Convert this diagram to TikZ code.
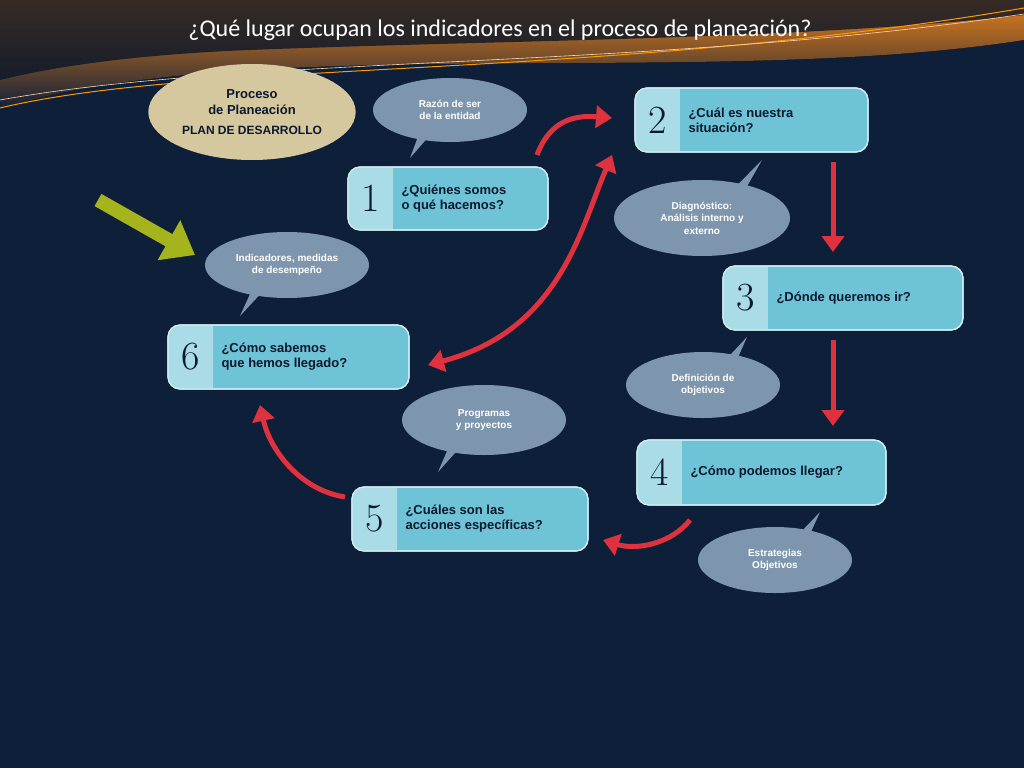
\documentclass[tikz,border=0pt]{standalone}
\usepackage{fontspec}
\setsansfont{Carlito}
\newfontfamily\arialb{Liberation Sans}
\usetikzlibrary{arrows.meta,shapes.geometric}
\definecolor{bg}{HTML}{0E1F3A}
\definecolor{boxc}{HTML}{6EC3D6}
\definecolor{numc}{HTML}{A9DCE7}
\definecolor{bub}{HTML}{7E96AD}
\definecolor{redc}{HTML}{E0313F}
\definecolor{beige}{HTML}{D5C79E}
\definecolor{olive}{HTML}{A5B41C}
\tikzset{
 qbox/.style={draw=white!70!boxc,line width=1.2pt,fill=boxc,rounded corners=12pt},
 qtext/.style={font=\arialb\bfseries\fontsize{13}{15}\selectfont,text=bg!80!black,align=left,anchor=west},
 num/.style={font=\fontsize{40}{40}\selectfont,text=bg!80!black},
 btext/.style={font=\arialb\bfseries\fontsize{10}{12.5}\selectfont,text=white,align=center},
 redarr/.style={redc,line width=5pt,-{Triangle[length=16pt,width=22pt]}},
}
\newcommand{\qb}[7]{%
 \draw[qbox] (#2,#3) rectangle (#4,#5);
 \begin{scope}
 \clip[rounded corners=12pt] (#2,#3) rectangle (#4,#5);
 \fill[numc] (#2,#3) rectangle (#2+45,#5);
 \end{scope}
 \draw[white!70!boxc,line width=1.2pt,rounded corners=12pt] (#2,#3) rectangle (#4,#5);
 \node[num] (#1n) at (#2+23,{(#3+#5)/2}) {#6};
 \node[qtext] (#1) at (#2+50,{(#3+#5)/2}) {#7};
}
\newcommand{\bb}[8]{%
 \fill[bub] (#2,#3) ellipse [x radius=#4,y radius=#5];
 \fill[bub] ({#2+(#6-#2)*0.25-12},#3) -- (#6,#7) -- ({#2+(#6-#2)*0.25+12},#3) -- cycle;
 \node[btext] (#1) at (#2,#3) {#8};
}
\begin{document}
\begin{tikzpicture}[x=1pt,y=-1pt]
\fill[bg] (0,0) rectangle (1024,768);
\useasboundingbox (0,0) rectangle (1024,768);
\fill[bottom color=bg,top color=orange!60!brown] (0,0) -- (1024,0) -- (1024,40) .. controls (800,75) and (500,55) .. (250,70) .. controls (120,78) and (40,95) .. (0,110) -- cycle;
\fill[bg!70!black,opacity=0.8] (0,0) -- (1024,0) -- (1024,15) .. controls (800,40) and (500,40) .. (250,50) .. controls (120,55) and (40,70) .. (0,80) -- cycle;
\draw[orange!80!yellow,line width=1pt] (0,108) .. controls (200,60) and (600,80) .. (1024,8);
\draw[white!70!orange,line width=0.6pt] (0,100) .. controls (250,55) and (650,70) .. (1024,14);
\node[font=\sffamily\fontsize{24}{28}\selectfont,text=white] (title) at (500,30) {¿Qué lugar ocupan los indicadores en el proceso de planeación?};
\node[ellipse,fill=beige,minimum width=190pt,minimum height=96pt,font=\arialb\bfseries\fontsize{13}{16}\selectfont,text=bg!80!black,align=center] (plan) at (252,112) {Proceso\\de Planeación\\[4pt]{\fontsize{12}{14}\selectfont PLAN DE DESARROLLO}};
\qb{b1}{348}{167}{548}{230}{1}{¿Quiénes somos\\o qué hacemos?}
\qb{b2}{635}{88}{868}{152}{2}{¿Cuál es nuestra\\situación?}
\qb{b3}{723}{266}{963}{330}{3}{¿Dónde queremos ir?}
\qb{b4}{637}{440}{886}{505}{4}{¿Cómo podemos llegar?}
\qb{b5}{352}{487}{588}{551}{5}{¿Cuáles son las\\acciones específicas?}
\qb{b6}{168}{325}{409}{389}{6}{¿Cómo sabemos\\que hemos llegado?}
\bb{r1}{450}{110}{77}{32}{410}{158}{Razón de ser\\de la entidad}
\bb{r2}{702}{218}{88}{38}{762}{160}{Diagnóstico:\\Análisis interno y\\externo}
\bb{r3}{703}{385}{77}{33}{747}{337}{Definición de\\objetivos}
\bb{r4}{775}{560}{77}{33}{820}{512}{Estrategias\\Objetivos}
\bb{r5}{484}{420}{82}{35}{438}{472}{Programas\\y proyectos}
\bb{r6}{287}{265}{82}{33}{240}{316}{Indicadores, medidas\\de desempeño}
\coordinate (a1) at (537,155);
\coordinate (a2) at (612,118);
\draw[redarr] (a1) .. controls (550,120) and (575,115) .. (a2);
\coordinate (c2) at (833,162); \coordinate (c3) at (833,252);
\draw[redarr] (c2) -- (c3);
\coordinate (c4) at (833,340); \coordinate (c5) at (833,426);
\draw[redarr] (c4) -- (c5);
\coordinate (d1) at (690,520); \coordinate (d2) at (603,540);
\draw[redarr] (d1) .. controls (670,545) and (635,550) .. (d2);
\coordinate (e1) at (345,497); \coordinate (e2) at (260,405);
\draw[redarr] (e1) .. controls (300,490) and (270,450) .. (e2);
\coordinate (f1) at (428,365); \coordinate (f2) at (612,155);
\draw[redc,line width=5pt,{Triangle[length=16pt,width=22pt]}-{Triangle[length=16pt,width=22pt]}] (f1) .. controls (560,330) and (580,230) .. (f2);
\coordinate (g1) at (98,200); \coordinate (g2) at (195,255);
\draw[olive,line width=14pt,-{Triangle[length=30pt,width=44pt]}] (g1) -- (g2);
\end{tikzpicture}
\end{document}
